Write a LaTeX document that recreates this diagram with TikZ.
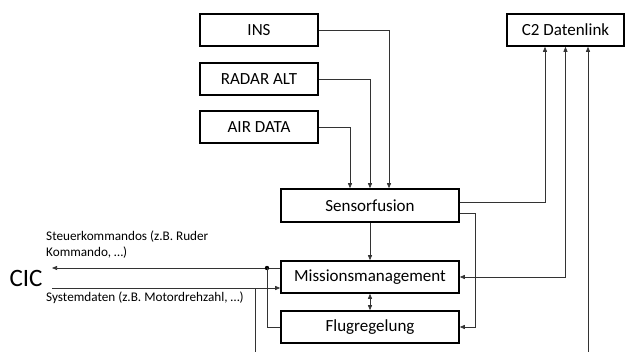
\documentclass[tikz,border=0pt]{standalone}
\usepackage{fontspec}
\setmainfont{Carlito}
\usetikzlibrary{arrows.meta}
\begin{document}
\begin{tikzpicture}[x=1pt,y=-1pt,
  box/.style={draw=black,line width=1.6pt,minimum height=32pt,inner sep=0pt,font=\fontsize{17}{19}\selectfont},
  conn/.style={draw=black!80,line width=0.7pt},
  tip/.style={-{Triangle[length=5pt,width=4pt]}},
  lbl/.style={font=\fontsize{13.2}{15.5}\selectfont,inner sep=0pt,anchor=west,align=left}
]
\useasboundingbox (0,0) rectangle (625,352);

% sensor and link boxes
\node[box,minimum width=118pt] (ins)   at (259,30)  {INS};
\node[box,minimum width=118pt] (radar) at (259,79)  {RADAR ALT};
\node[box,minimum width=118pt] (air)   at (259,127) {AIR DATA};
\node[box,minimum width=117pt] (c2)    at (565.5,30) {C2 Datenlink};

% processing chain
\node[box,minimum width=178pt,minimum height=33pt] (sf) at (370,205.5) {Sensorfusion};
\node[box,minimum width=178pt] (mm) at (370,277) {Missionsmanagement};
\node[box,minimum width=178pt] (fr) at (370,327) {Flugregelung};

% CIC interface
\node[font=\fontsize{25}{28}\selectfont,inner sep=0pt] (cic) at (26,278) {CIC};
\node[lbl] (steuer) at (46,244.5) {Steuerkommandos (z.B. Ruder\\Kommando, \dots)};
\node[lbl] (sys) at (46,298) {Systemdaten (z.B. Motordrehzahl, \dots)};

\coordinate (cicout) at (52,268);
\coordinate (cicin)  at (52,288);
\coordinate (junc)   at (267,268);
\coordinate (botA)   at (255,352);
\coordinate (botB)   at (588,352);

% sensors into fusion
\draw[conn,tip] (ins.east) -| ([xshift=19pt]sf.north);
\draw[conn,tip] (radar.east) -| (sf.north);
\draw[conn,tip] (air.east) -| ([xshift=-20pt]sf.north);

% fusion to mission management and flight control
\draw[conn,tip] (sf.south) -- (mm.north);
\draw[conn,{Triangle[length=5pt,width=4pt]}-{Triangle[length=5pt,width=4pt]}] (mm.south) -- (fr.north);
\draw[conn,tip] ([yshift=-7.5pt]sf.east) -- ++(16,0) |- (fr.east);

% data link connections
\draw[conn,tip] ([yshift=3.5pt]sf.east) -| ([xshift=-20.5pt]c2.south);
\draw[conn,{Triangle[length=5pt,width=4pt]}-{Triangle[length=5pt,width=4pt]}] (mm.east) -| (c2.south);
\draw[conn,tip] (botB) -- ([xshift=22.5pt]c2.south);

% commands and system data to/from CIC
\draw[conn,tip] ([yshift=9pt]mm.west) -- (cicout);
\fill[black] (junc) circle (2.2pt);
\draw[conn] (junc) |- (fr.west);
\draw[conn,tip] (cicin) -- ([yshift=-11pt]mm.west);
\draw[conn] (botA) -- (botA |- cicin);
\end{tikzpicture}
\end{document}
